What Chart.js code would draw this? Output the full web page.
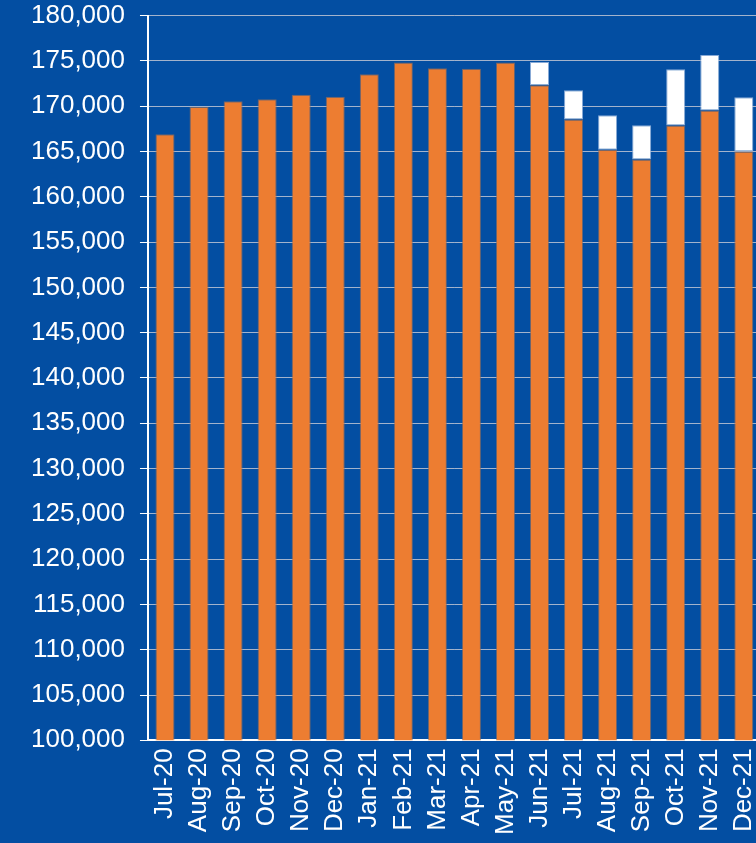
<!DOCTYPE html>
<html>
<head>
<meta charset="utf-8">
<script src="https://cdn.jsdelivr.net/npm/chart.js@4.4.0/dist/chart.umd.min.js"></script>
<style>
  html, body { margin: 0; padding: 0; background: #034ea2; overflow: hidden; }
  #wrap { position: absolute; left: 1px; top: -15px; width: 782px; height: 858px; }
</style>
</head>
<body>
<div id="wrap"><canvas id="c"></canvas></div>
<script>
const categories = ["Jul-20","Aug-20","Sep-20","Oct-20","Nov-20","Dec-20","Jan-21","Feb-21","Mar-21","Apr-21","May-21","Jun-21","Jul-21","Aug-21","Sep-21","Oct-21","Nov-21","Dec-21"];
const baseValues = [166900,169900,170550,170770,171250,171030,173520,174810,174190,174120,174810,172310,168520,165180,164110,167860,169520,164990];
const topValues = [0,0,0,0,0,0,0,0,0,0,0,2580,3240,3820,3790,6220,6140,6000];
const yMin = 100000, yMax = 180000, yStep = 5000;

new Chart(document.getElementById('c'), {
  type: 'bar',
  data: {
    labels: categories,
    datasets: [
      { data: baseValues, backgroundColor: '#ed7d31', borderColor: 'rgba(150,110,90,0.7)', borderWidth: 1, borderSkipped: 'bottom' },
      { data: topValues, backgroundColor: '#ffffff', borderColor: 'rgba(150,180,220,0.9)', borderWidth: 1, borderSkipped: false }
    ]
  },
  options: {
    responsive: true,
    maintainAspectRatio: false,
    animation: false,
    layout: { padding: { left: 15, top: 2, right: 0, bottom: 0 } },
    plugins: { legend: { display: false }, tooltip: { enabled: false } },
    datasets: { bar: { categoryPercentage: 1.0, barPercentage: 0.56 } },
    scales: {
      x: {
        stacked: true,
        grid: { display: false, drawTicks: false },
        border: { color: '#ffffff', width: 2 },
        ticks: { color: '#ffffff', font: { family: 'Liberation Sans, Arial', size: 26 }, minRotation: 90, maxRotation: 90, padding: 8, autoSkip: false }
      },
      y: {
        stacked: true,
        min: yMin, max: yMax,
        grid: { color: '#a3b3cc', lineWidth: 1, tickLength: 8, tickColor: '#ffffff' },
        border: { color: '#ffffff', width: 2 },
        ticks: { stepSize: yStep, color: '#ffffff', padding: 15, font: { family: 'Liberation Sans, Arial', size: 26 },
          callback: v => v.toLocaleString('en-US') }
      }
    }
  }
});
</script>
</body>
</html>
